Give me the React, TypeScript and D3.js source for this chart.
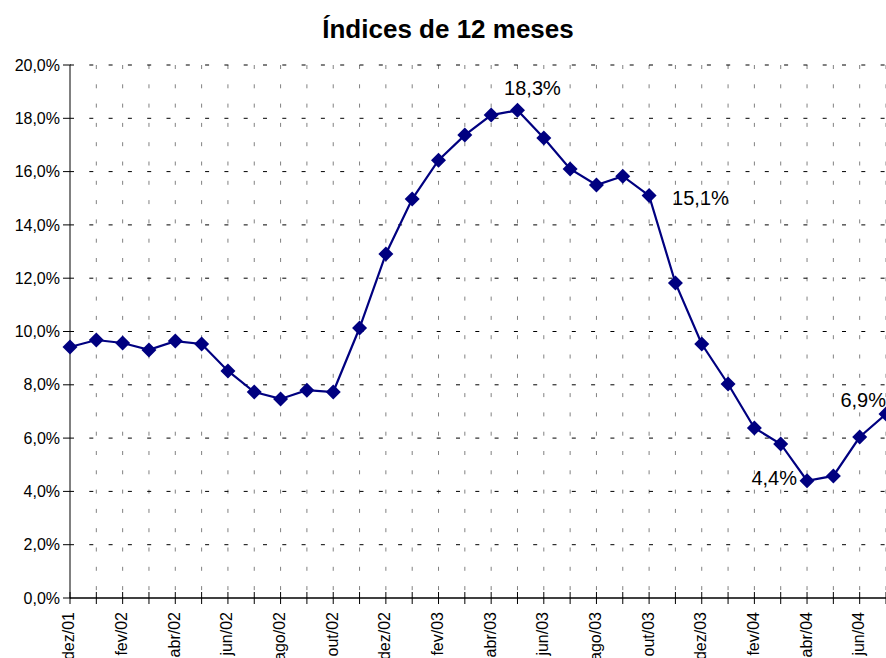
// Line chart of 12-month inflation indices (dez/01 – jul/04)
import React from 'react';
import * as d3 from 'd3';

const months = [
  'dez/01', 'jan/02', 'fev/02', 'mar/02', 'abr/02', 'mai/02', 'jun/02', 'jul/02',
  'ago/02', 'set/02', 'out/02', 'nov/02', 'dez/02', 'jan/03', 'fev/03', 'mar/03',
  'abr/03', 'mai/03', 'jun/03', 'jul/03', 'ago/03', 'set/03', 'out/03', 'nov/03',
  'dez/03', 'jan/04', 'fev/04', 'mar/04', 'abr/04', 'mai/04', 'jun/04', 'jul/04'
];

const indices = [
  9.42, 9.68, 9.57, 9.31, 9.64, 9.53, 8.52, 7.73,
  7.47, 7.80, 7.73, 10.13, 12.91, 14.97, 16.43, 17.37,
  18.12, 18.3, 17.26, 16.10, 15.50, 15.83, 15.1, 11.82,
  9.53, 8.03, 6.38, 5.78, 4.4, 4.58, 6.04, 6.9
];

const yTicks = [0, 2, 4, 6, 8, 10, 12, 14, 16, 18, 20];

// months that get a value label
const labelled = ['mai/03', 'out/03', 'abr/04', 'jul/04'];

const W = 886, H = 658;
const left = 70, right = 886, top = 65, bottom = 598;
const navy = '#000080';

const fmt = (v: number) => v.toFixed(1).replace('.', ',') + '%';

export default function App() {
  const x = d3.scalePoint<string>().domain(months).range([left, right]);
  const y = d3.scaleLinear().domain([0, 20]).range([bottom, top]);

  const line = d3.line<number>()
    .x((d, i) => x(months[i]) as number)
    .y(d => y(d));

  const diamond = 'M0,-7.5L7.5,0L0,7.5L-7.5,0Z';

  // label placement relative to the point (dx, dy), anchor
  const labelPos: Record<string, [number, number, string]> = {
    'mai/03': [15, -15, 'middle'],
    'out/03': [23, 9, 'start'],
    'abr/04': [-10, 4, 'end'],
    'jul/04': [0, -7, 'end']
  };

  return (
    <div style={{ position: 'absolute', left: 0, top: 0 }}>
      <svg width={W} height={H} style={{ display: 'block', fontFamily: 'Arial, "Liberation Sans", sans-serif' }}>
        <rect width={W} height={H} fill="#fff" />
        <text x={448} y={38} textAnchor="middle" fontSize={26} fontWeight="bold">Índices de 12 meses</text>

        {/* vertical grid */}
        {months.slice(1).map(m => (
          <line key={'vg' + m} x1={x(m)} x2={x(m)} y1={top} y2={bottom}
            stroke="#808080" strokeWidth={1} strokeDasharray="4,15.3" />
        ))}
        {/* horizontal grid */}
        {yTicks.slice(1).map(t => (
          <line key={'hg' + t} x1={left} x2={right} y1={y(t)} y2={y(t)}
            stroke="#000" strokeWidth={1} strokeDasharray="4,15.3" />
        ))}

        {/* y axis */}
        <line x1={left} x2={left} y1={top} y2={bottom} stroke="#808080" strokeWidth={2} />
        {yTicks.map(t => (
          <g key={'yt' + t}>
            <line x1={left - 7} x2={left + 1} y1={y(t)} y2={y(t)} stroke="#000" />
            <text x={left - 10} y={y(t)} dy="0.35em" textAnchor="end" fontSize={16}>{fmt(t)}</text>
          </g>
        ))}

        {/* x axis */}
        <line x1={left} x2={right} y1={bottom} y2={bottom} stroke="#000" strokeWidth={1.5} />
        {months.map((m, i) => (
          <g key={'xt' + m}>
            <line x1={x(m)} x2={x(m)} y1={bottom - 6} y2={bottom + 6} stroke="#000" />
            {i % 2 === 0 && (
              <text transform={`translate(${x(m)},${bottom + 14}) rotate(-90)`}
                dy="0.28em" textAnchor="end" fontSize={16}>{m}</text>
            )}
          </g>
        ))}

        {/* series */}
        <path d={line(indices) as string} fill="none" stroke={navy} strokeWidth={2.2} />
        {indices.map((v, i) => (
          <path key={'pt' + i} d={diamond} fill={navy}
            transform={`translate(${x(months[i])},${y(v)})`} />
        ))}

        {labelled.map(m => {
          const i = months.indexOf(m);
          const [dx, dy, anchor] = labelPos[m];
          return (
            <text key={'lb' + m} x={(x(m) as number) + dx} y={y(indices[i]) + dy}
              textAnchor={anchor as any} fontSize={20}>{fmt(indices[i])}</text>
          );
        })}
      </svg>
    </div>
  );
}
